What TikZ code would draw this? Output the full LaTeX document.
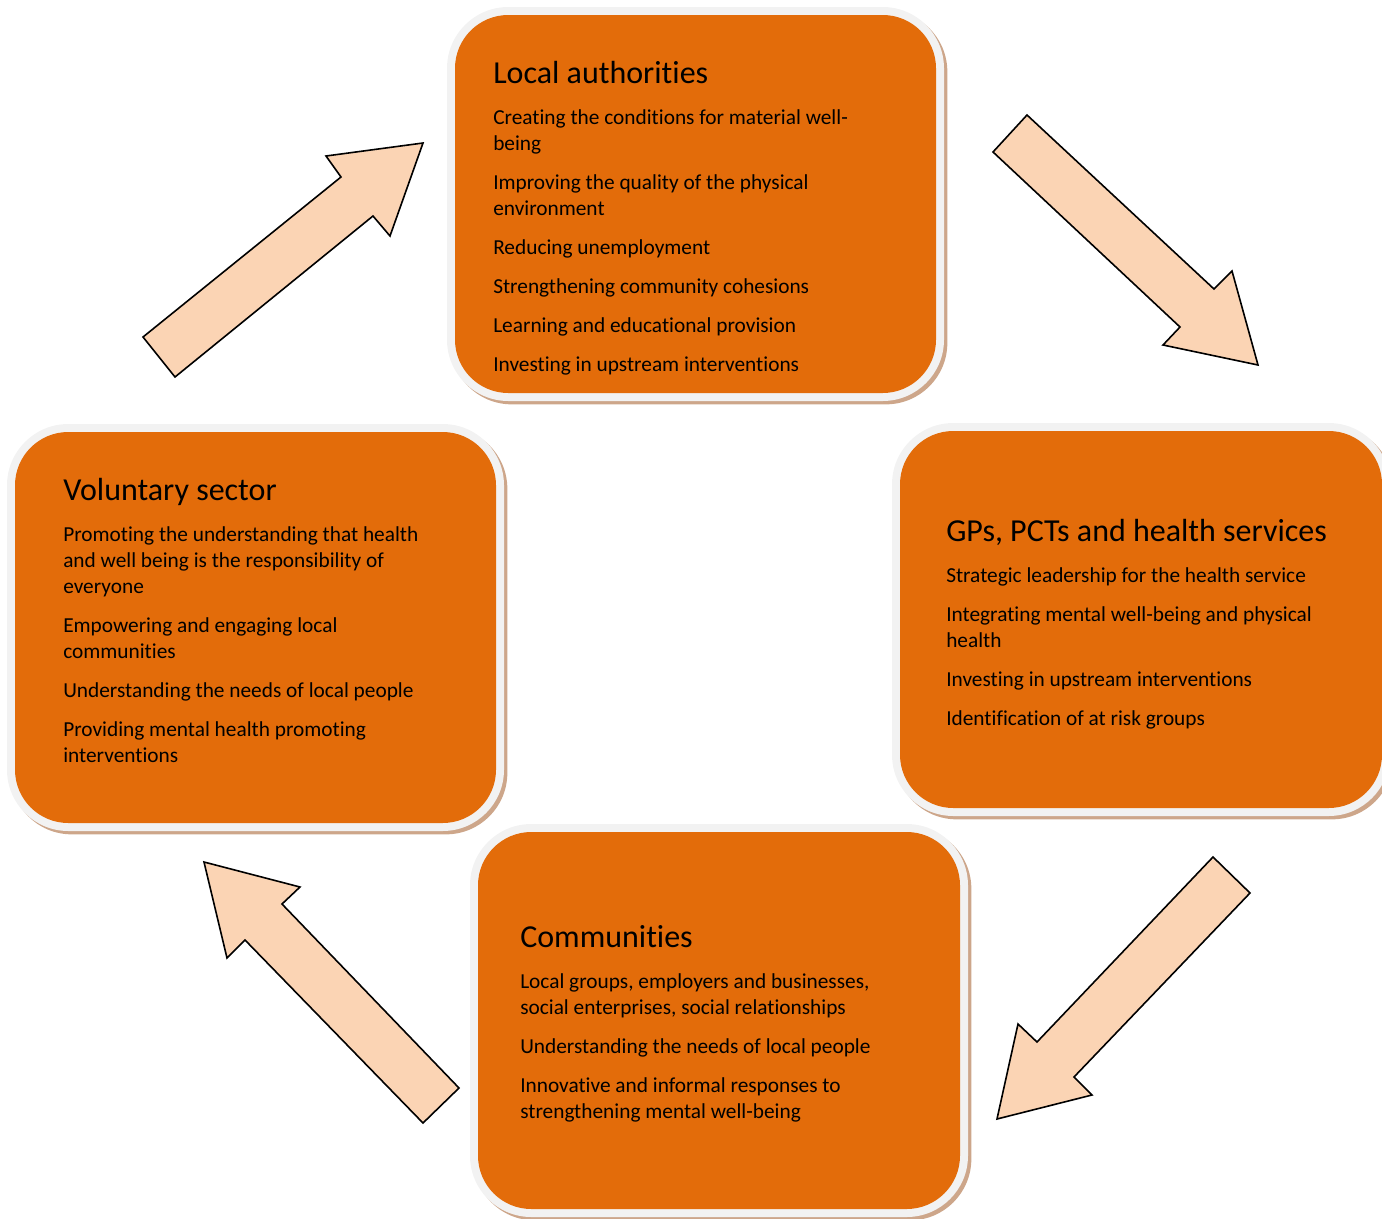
\documentclass[tikz,border=0pt]{standalone}
\usepackage{fontspec}
\setmainfont{Carlito}[Ligatures=NoCommon]
\usetikzlibrary{fit}
\definecolor{boxorange}{HTML}{E36C0A}
\definecolor{bandgray}{HTML}{F2F2F2}
\definecolor{shadowtan}{HTML}{CDA68A}
\definecolor{arrowfill}{HTML}{FBD4B4}

% panel: shadow, light band and orange face; #1 name, (#2,#3)-(#4,#5) outer corners
\newcommand\drawpanel[5]{%
  \fill[shadowtan, rounded corners=46pt, xshift=2.5pt, yshift=-2.5pt] (#2,#3) rectangle (#4,#5);
  \fill[bandgray, rounded corners=46pt] (#2,#3) rectangle (#4,#5);
  \node[panelface, fit={(#2+8,#3+8) (#4-8,#5-8)}] (#1) {};
}
\newcommand\paneltitle[1]{{\fontsize{24}{28}\selectfont #1}}

\begin{document}
\begin{tikzpicture}[x=0.75pt, y=-0.75pt,
  panelface/.style={fill=boxorange, draw=none, inner sep=0pt, rounded corners=40pt},
  paneltext/.style={anchor=base west, inner sep=0pt, align=left,
    font=\fontsize{16}{19.5}\selectfont},
  blockarrow/.style={fill=arrowfill, draw=black, line width=1.2pt, line join=miter}]
\useasboundingbox (0,0) rectangle (1382,1218);

% four panels
\drawpanel{la}{447}{7}{944}{401}
\drawpanel{gp}{892}{423}{1390}{816}
\drawpanel{vs}{7}{424}{504}{831}
\drawpanel{cm}{470}{824}{968}{1217}

% panel texts
\node[paneltext] (la-text) at (493,83) {\begin{tabular}[t]{@{}l@{}}
\paneltitle{Local authorities}\\[11.25pt]
Creating the conditions for material well-\\
being\\[9.75pt]
Improving the quality of the physical\\
environment\\[9.75pt]
Reducing unemployment\\[9.75pt]
Strengthening community cohesions\\[9.75pt]
Learning and educational provision\\[9.75pt]
Investing in upstream interventions
\end{tabular}};

\node[paneltext] (gp-text) at (946,541) {\begin{tabular}[t]{@{}l@{}}
\paneltitle{GPs, PCTs and health services}\\[11.25pt]
Strategic leadership for the health service\\[9.75pt]
Integrating mental well-being and physical\\
health\\[9.75pt]
Investing in upstream interventions\\[9.75pt]
Identification of at risk groups
\end{tabular}};

\node[paneltext] (vs-text) at (63,500) {\begin{tabular}[t]{@{}l@{}}
\paneltitle{Voluntary sector}\\[11.25pt]
Promoting the understanding that health\\
and well being is the responsibility of\\
everyone\\[9.75pt]
Empowering and engaging local\\
communities\\[9.75pt]
Understanding the needs of local people\\[9.75pt]
Providing mental health promoting\\
interventions
\end{tabular}};

\node[paneltext] (cm-text) at (520,947) {\begin{tabular}[t]{@{}l@{}}
\paneltitle{Communities}\\[11.25pt]
Local groups, employers and businesses,\\
social enterprises, social relationships\\[9.75pt]
Understanding the needs of local people\\[9.75pt]
Innovative and informal responses to\\
strengthening mental well-being
\end{tabular}};

% block arrows running clockwise between the panels
\draw[blockarrow] (143,337) -- (341,177) -- (326,156) -- (423,143) -- (390,236) -- (373,216) -- (175,377) -- cycle;
\draw[blockarrow] (993,152) -- (1027,115) -- (1214,289) -- (1232,271) -- (1258,365) -- (1163,345) -- (1180,327) -- cycle;
\draw[blockarrow] (1213,857) -- (1250,893) -- (1074,1077) -- (1092,1095) -- (997,1119) -- (1018,1024) -- (1037,1042) -- cycle;
\draw[blockarrow] (459,1088) -- (423,1123) -- (245,940) -- (227,958) -- (204,862) -- (300,887) -- (282,904) -- cycle;
\end{tikzpicture}
\end{document}
